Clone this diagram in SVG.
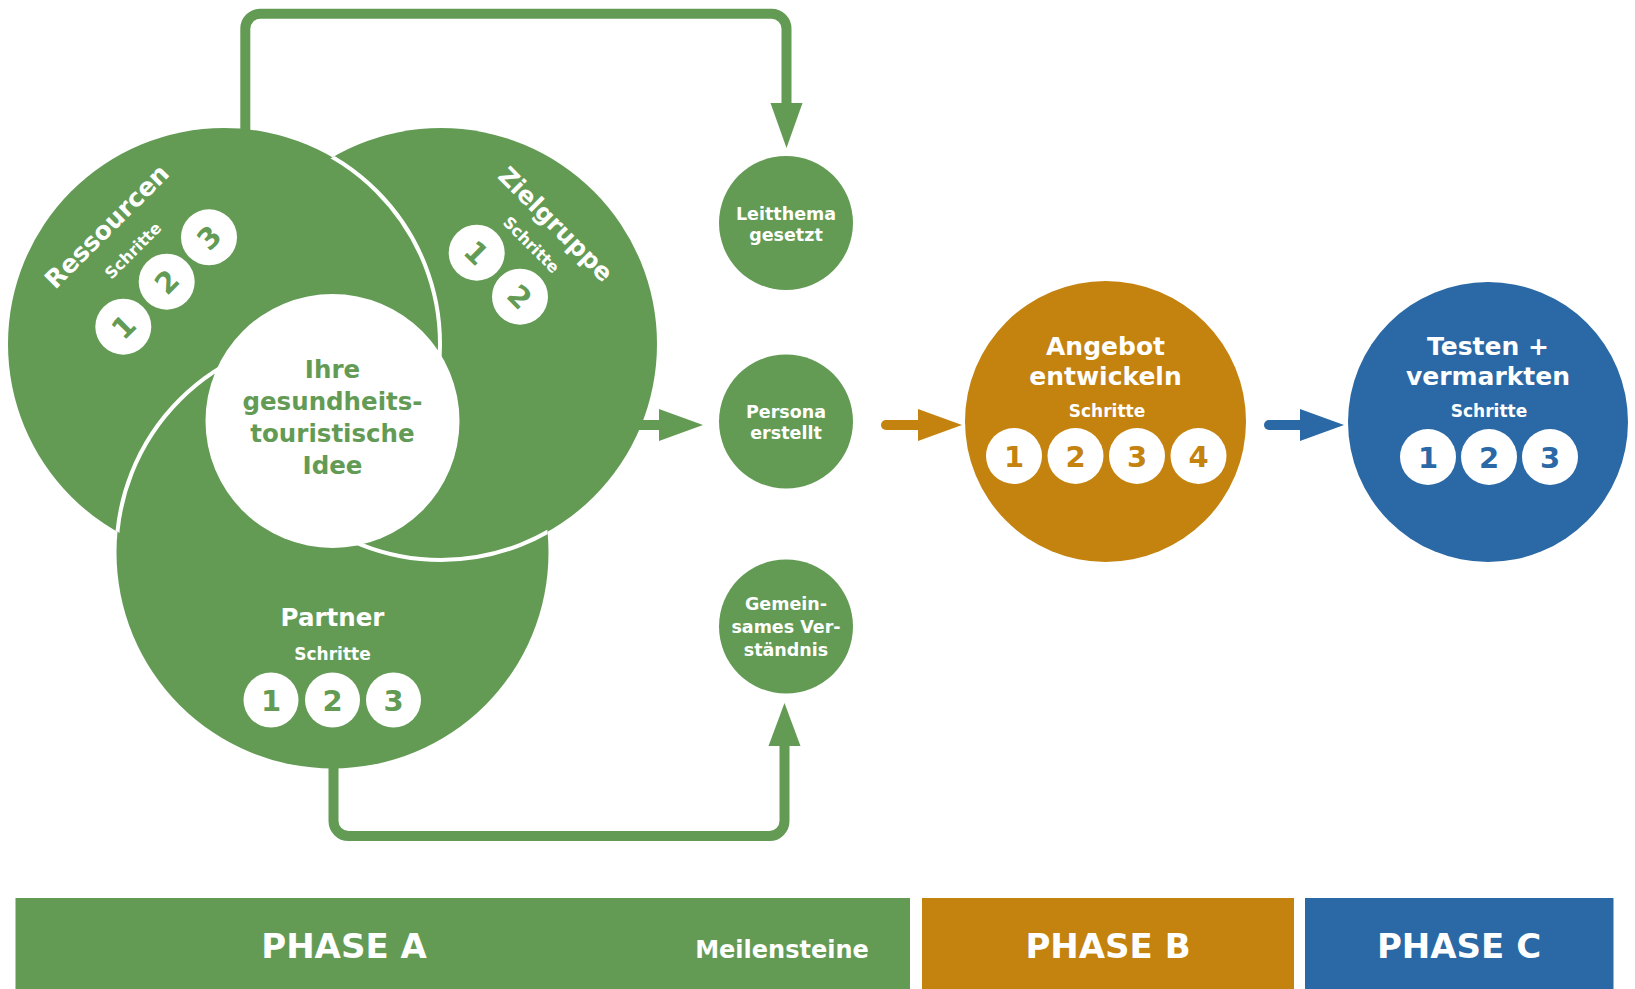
<svg xmlns="http://www.w3.org/2000/svg" width="1635" height="989" viewBox="0 0 1635 989">
  <style>
    text { font-family: "DejaVu Sans", "Liberation Sans", sans-serif; font-weight: 700; text-anchor: middle; }
    .green { fill: #639b55; }
    .orange { fill: #c4820f; }
    .blue { fill: #2a69a5; }
    .white { fill: #ffffff; }
    .seam { fill: none; stroke: #ffffff; stroke-width: 4; }
    .step { fill: #ffffff; }
    .digit { font-size: 29px; }
    .title { font-size: 25px; fill: #ffffff; }
    .sub { font-size: 17px; fill: #ffffff; }
    .mile { font-size: 17.5px; fill: #ffffff; }
    .phase { font-size: 34px; fill: #ffffff; }
    .line-g { fill: none; stroke: #639b55; stroke-width: 10; stroke-linejoin: round; }
    .shaft { fill: none; stroke-width: 10; stroke-linecap: round; }
  </style>
  <defs>
    <clipPath id="clipR"><circle cx="224" cy="344" r="216"/></clipPath>
    <clipPath id="clipZ"><circle cx="441" cy="344" r="216"/></clipPath>
    <clipPath id="clipP"><circle cx="332.5" cy="552.5" r="216"/></clipPath>
  </defs>

  <!-- connectors -->
  <g id="connectors">
    <!-- loop over the top: Ressourcen to Leitthema -->
    <path class="line-g" d="M245.3,140 V28.7 A15,15 0 0 1 260.3,13.7 H771.5 A15,15 0 0 1 786.5,28.7 V106"/>
    <polygon class="green" points="770.5,103 802.5,103 786.5,148"/>
    <!-- loop underneath: Partner to Gemeinsames Verstaendnis -->
    <path class="line-g" d="M333.5,760 V821 A15,15 0 0 0 348.5,836 H769.5 A15,15 0 0 0 784.5,821 V744"/>
    <polygon class="green" points="768.5,746 800.5,746 784.5,703"/>
    <!-- Zielgruppe to Persona -->
    <path class="shaft" stroke="#639b55" stroke-linecap="butt" d="M630,425 H662"/>
    <polygon class="green" points="659,409 659,441 703,425"/>
    <!-- Phase A to Phase B -->
    <path class="shaft" stroke="#c4820f" d="M886,425 H920"/>
    <polygon class="orange" points="918,409 918,441 962,425"/>
    <!-- Phase B to Phase C -->
    <path class="shaft" stroke="#2a69a5" d="M1269,425 H1302"/>
    <polygon class="blue" points="1300,409 1300,441 1344,425"/>
  </g>

  <!-- three overlapping circles around the idea -->
  <g id="venn">
    <circle class="green" cx="224" cy="344" r="216"/>
    <circle class="green" cx="441" cy="344" r="216"/>
    <circle class="green" cx="332.5" cy="552.5" r="216"/>
    <!-- white seams where one circle lies over the next -->
    <circle class="seam" cx="224" cy="344" r="216" clip-path="url(#clipZ)"/>
    <circle class="seam" cx="332.5" cy="552.5" r="216" clip-path="url(#clipR)"/>
    <circle class="seam" cx="441" cy="344" r="216" clip-path="url(#clipP)"/>
  </g>

  <g id="ressourcen">
    <text class="title" transform="translate(112.9,232.4) rotate(-45)">Ressourcen</text>
    <text class="sub" style="font-size:16px" transform="translate(137,254.5) rotate(-45)">Schritte</text>
    <g transform="translate(123.3,326.7) rotate(-45)"><circle class="step" r="28"/><text class="digit green" y="10.6">1</text></g>
    <g transform="translate(166.7,281.7) rotate(-45)"><circle class="step" r="28"/><text class="digit green" y="10.6">2</text></g>
    <g transform="translate(209,237.3) rotate(-45)"><circle class="step" r="28"/><text class="digit green" y="10.6">3</text></g>
  </g>

  <g id="zielgruppe">
    <text class="title" style="font-size:24.5px" transform="translate(549.8,230.2) rotate(45)">Zielgruppe</text>
    <text class="sub" style="font-size:16px" transform="translate(527.3,248.7) rotate(45)">Schritte</text>
    <g transform="translate(476.7,252.7) rotate(45)"><circle class="step" r="28"/><text class="digit green" y="10.6">1</text></g>
    <g transform="translate(520,296.7) rotate(45)"><circle class="step" r="28"/><text class="digit green" y="10.6">2</text></g>
  </g>

  <g id="partner">
    <text class="title" style="font-size:24.5px" x="332.5" y="626">Partner</text>
    <text class="sub" x="332.5" y="660">Schritte</text>
    <g transform="translate(271,700)"><circle class="step" r="27.5"/><text class="digit green" y="10.6">1</text></g>
    <g transform="translate(332.5,700)"><circle class="step" r="27.5"/><text class="digit green" y="10.6">2</text></g>
    <g transform="translate(393.5,700)"><circle class="step" r="27.5"/><text class="digit green" y="10.6">3</text></g>
  </g>

  <g id="idee">
    <circle class="white" cx="332.5" cy="421" r="127"/>
    <text class="green" style="font-size:24.5px"><tspan x="332.5" y="378">Ihre</tspan><tspan x="332.5" y="410">gesundheits-</tspan><tspan x="332.5" y="442">touristische</tspan><tspan x="332.5" y="474">Idee</tspan></text>
  </g>

  <!-- milestones -->
  <g id="leitthema">
    <circle class="green" cx="786" cy="223" r="67"/>
    <text class="mile"><tspan x="786" y="219.5">Leitthema</tspan><tspan x="786" y="240.5">gesetzt</tspan></text>
  </g>
  <g id="persona">
    <circle class="green" cx="786" cy="421.5" r="67"/>
    <text class="mile"><tspan x="786" y="417.5">Persona</tspan><tspan x="786" y="439">erstellt</tspan></text>
  </g>
  <g id="verstaendnis">
    <circle class="green" cx="786" cy="626.5" r="67"/>
    <text class="mile"><tspan x="786" y="610">Gemein-</tspan><tspan x="786" y="633">sames Ver-</tspan><tspan x="786" y="655.5">ständnis</tspan></text>
  </g>

  <!-- phase B -->
  <g id="angebot">
    <circle class="orange" cx="1105.5" cy="421.5" r="140.5"/>
    <text class="title"><tspan x="1105.5" y="355">Angebot</tspan><tspan x="1105.5" y="385">entwickeln</tspan></text>
    <text class="sub" x="1107" y="417">Schritte</text>
    <g transform="translate(1014,456)"><circle class="step" r="28"/><text class="digit orange" y="10.6">1</text></g>
    <g transform="translate(1075.5,456)"><circle class="step" r="28"/><text class="digit orange" y="10.6">2</text></g>
    <g transform="translate(1137,456)"><circle class="step" r="28"/><text class="digit orange" y="10.6">3</text></g>
    <g transform="translate(1198.5,456)"><circle class="step" r="28"/><text class="digit orange" y="10.6">4</text></g>
  </g>

  <!-- phase C -->
  <g id="testen">
    <circle class="blue" cx="1488" cy="422" r="140"/>
    <text class="title"><tspan x="1488" y="355">Testen +</tspan><tspan x="1488" y="385">vermarkten</tspan></text>
    <text class="sub" x="1489" y="417">Schritte</text>
    <g transform="translate(1428,457)"><circle class="step" r="28"/><text class="digit blue" y="10.6">1</text></g>
    <g transform="translate(1489,457)"><circle class="step" r="28"/><text class="digit blue" y="10.6">2</text></g>
    <g transform="translate(1550,457)"><circle class="step" r="28"/><text class="digit blue" y="10.6">3</text></g>
  </g>

  <!-- phase bars -->
  <g id="phase-a">
    <rect class="green" x="15.5" y="898" width="894.5" height="91"/>
    <text class="phase" x="344" y="958">PHASE A</text>
    <text class="phase" style="font-size:24px" x="782" y="958">Meilensteine</text>
  </g>
  <g id="phase-b">
    <rect class="orange" x="922" y="898" width="372" height="91"/>
    <text class="phase" x="1108" y="958">PHASE B</text>
  </g>
  <g id="phase-c">
    <rect class="blue" x="1305" y="898" width="308.5" height="91"/>
    <text class="phase" x="1459" y="958">PHASE C</text>
  </g>
</svg>
